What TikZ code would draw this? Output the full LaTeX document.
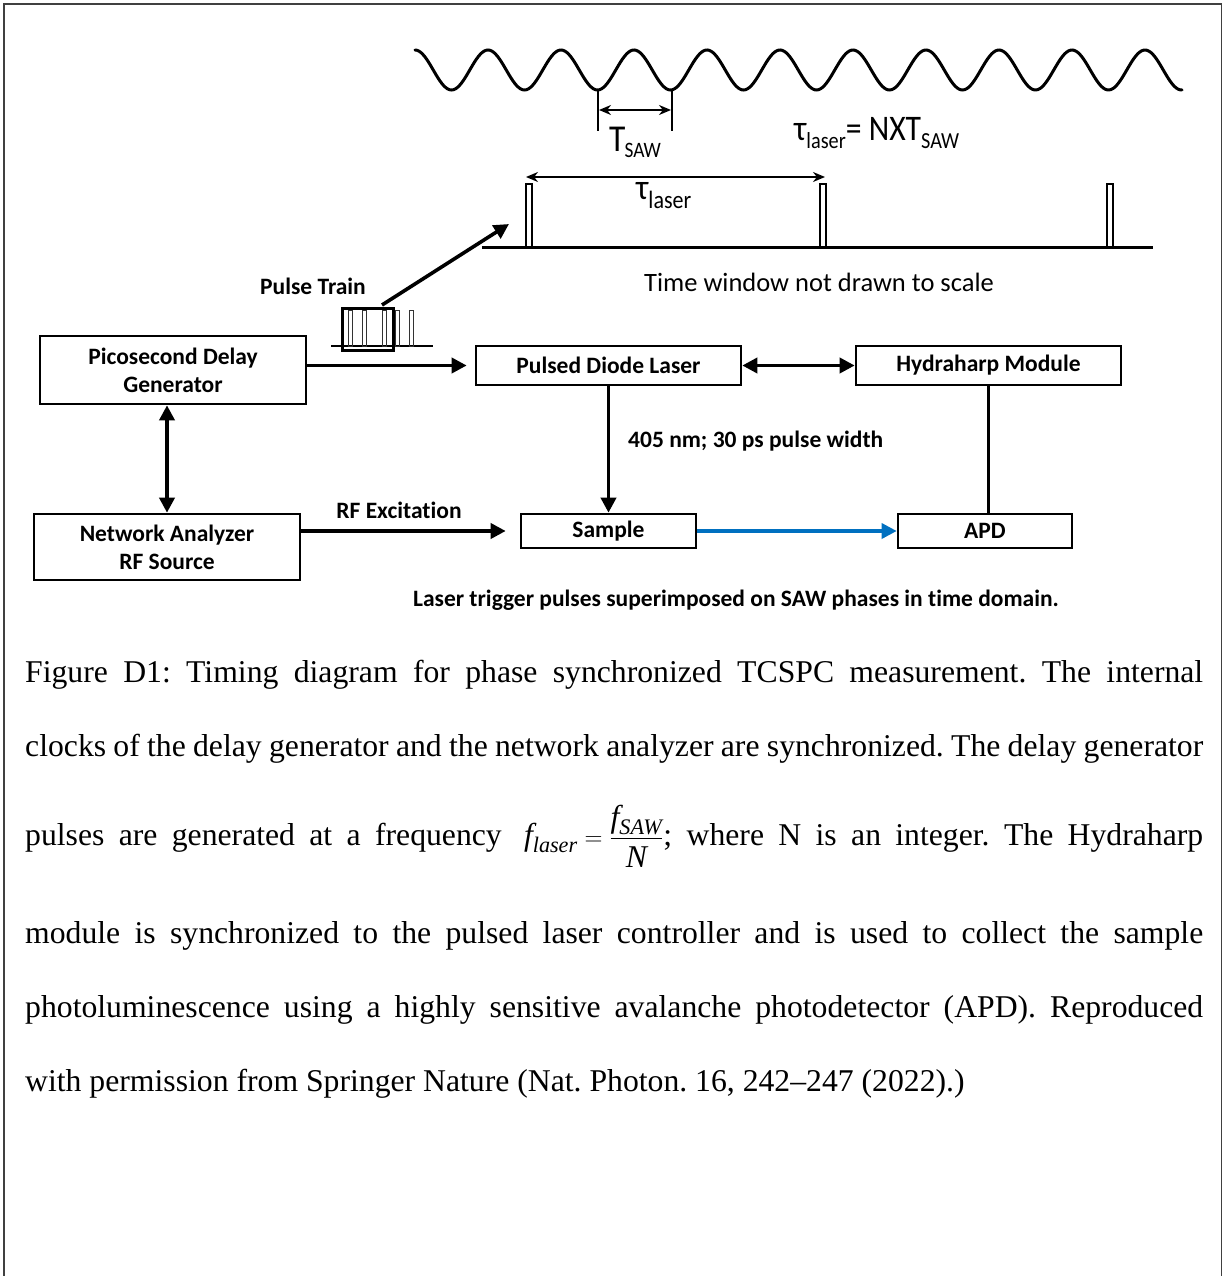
\documentclass[tikz,border=0pt]{standalone}
\usepackage{amsmath}
\usepackage{fontspec}
\setmainfont{Liberation Serif}
\newfontfamily\calfont[Ligatures=NoCommon]{Carlito}
\newfontfamily\narrowfont[FakeStretch=0.88]{Carlito}
\usetikzlibrary{arrows.meta}
\definecolor{sawblue}{RGB}{0,112,192}
\newcommand{\fs}[1]{\fontsize{#1}{#1}\selectfont}
\frenchspacing
\begin{document}
\begin{tikzpicture}[x=1pt,y=-1pt,
  box/.style={draw,line width=2.6pt,inner sep=0pt,align=center,font=\calfont\bfseries\fontsize{23.5}{28}\selectfont},
  lbl/.style={inner sep=0pt,font=\calfont\bfseries\fs{23.5}},
  arr/.style={line width=3.6pt,-{Triangle[length=15pt,width=15pt]}},
  darr/.style={line width=3.6pt,{Triangle[length=15pt,width=15pt]}-{Triangle[length=15pt,width=15pt]}},
  thinarr/.style={line width=1.8pt,{Stealth[length=12pt,width=10pt]}-{Stealth[length=12pt,width=10pt]}},
  pulse/.style={line width=1.1pt},
  capline/.style={inner sep=0pt,anchor=base west,font=\fs{31.7}}]
\useasboundingbox (0,0) rectangle (1225,1276);
% border
\draw[line width=1.6pt,black!75] (4,1290) -- (4,4) -- (1221.5,4) -- (1221.5,1290);

% SAW wave
\draw[line width=3pt,line cap=round] plot[domain=415:1182,samples=400,smooth] (\x,{70-20*cos(((\x-415)/73)*360)});
% T_SAW markers
\coordinate (ta) at (598,90);
\coordinate (tb) at (672,90);
\draw[line width=2.6pt] (ta) -- ++(0,41);
\draw[line width=2.6pt] (tb) -- ++(0,41);
\coordinate (tal) at (599,110);
\coordinate (tbl) at (671,110);
\draw[thinarr] (tal) -- (tbl);
\node[inner sep=0pt,anchor=base west] (tsaw) at (609,152) {\narrowfont\fs{38}T\kern-1pt\raisebox{-6pt}{\fs{22}SAW}};
\node[inner sep=0pt,anchor=base west] (eq) at (794,141) {\narrowfont\fs{36}τ\raisebox{-8pt}{\fs{23}laser}= NXT\raisebox{-8pt}{\fs{23}SAW}};

% timeline
\coordinate (tl0) at (482,247);
\coordinate (tl1) at (1153,247);
\draw[line width=3pt] (tl0) -- (tl1);
\draw[pulse] (526,184) rectangle (532,247);
\draw[pulse] (820,184) rectangle (826,247);
\draw[pulse] (1107,184) rectangle (1113,247);
\coordinate (la) at (526,177);
\coordinate (lb) at (825,177);
\draw[thinarr] (la) -- (lb);
\node[inner sep=0pt,anchor=base west] (tlas) at (636,200) {\narrowfont\fs{36}τ\raisebox{-9pt}{\fs{25}laser}};
\node[inner sep=0pt,font=\calfont\fs{26.5}] (tw) at (819,282) {Time window not drawn to scale};

% pulse train icon
\node[lbl] (ptl) at (313,286) {Pulse Train};
\draw[line width=1.2pt] (331,346) -- (433,346);
\foreach \a in {348,362,382,395,409}{\draw[line width=0.9pt,black!80] (\a,310) rectangle (\a+4,346);}
\node[draw,line width=3pt,minimum width=51pt,minimum height=42pt,inner sep=0pt] (ptbox) at (367.5,329) {};
\coordinate (pt0) at (382,305);
\coordinate (pt1) at (509,224);
\draw[arr] (pt0) -- (pt1);

% boxes
\node[box,minimum width=266pt,minimum height=68pt] (pdg) at (173,370) {Picosecond Delay\\Generator};
\node[box,minimum width=265pt,minimum height=39pt] (pdl) at (608.5,365.5) {Pulsed Diode Laser};
\node[box,minimum width=265pt,minimum height=39pt] (hyd) at (988.5,365.5) {Hydraharp Module};
\node[box,minimum width=266pt,minimum height=66pt] (na) at (167,547) {Network Analyzer\\RF Source};
\node[box,minimum width=175pt,minimum height=34pt] (sam) at (608.5,531) {Sample};
\node[box,minimum width=174pt,minimum height=34pt] (apd) at (985,531) {APD};

% connectors
\draw[arr,shorten >=8pt] (pdg.east |- pdl.west) -- (pdl.west);
\draw[darr] (pdl.east) -- (hyd.west);
\draw[arr] (pdl.south) -- (sam.north);
\draw[line width=3.6pt] (hyd.south) -- (hyd.south |- apd.north);
\draw[darr] (pdg.south -| na.north) -- (na.north);
\draw[arr,shorten >=14pt] (na.east |- sam.west) -- (sam.west);
\draw[line width=3.4pt,sawblue,-{Triangle[length=15pt,width=15pt]}] (sam.east) -- (apd.west);

\node[lbl,anchor=west] (wl) at (628,441) {405 nm; 30 ps pulse width};
\node[lbl] (rfx) at (399,510) {RF Excitation};
\node[lbl] (ltp) at (736,600) {Laser trigger pulses superimposed on SAW phases in time domain.};

% caption
\node[capline] (c1) at (25,682) {\makebox[1178pt][s]{Figure D1: Timing diagram for phase synchronized TCSPC measurement. The internal}};
\node[capline] (c2) at (25,756) {\makebox[1178pt][s]{clocks of the delay generator and the network analyzer are synchronized. The delay generator}};
\node[capline] (c3) at (25,845) {\makebox[1178pt][s]{pulses are generated at a frequency \mbox{ $\textit{f}_{\textit{laser}}=\dfrac{\textit{f}_{\textit{SAW}}\rule[-5pt]{0pt}{1pt}}{\rule{0pt}{25pt}\textit{N}}$}; where N is an integer. The Hydraharp}};
\node[capline] (c4) at (25,943) {\makebox[1178pt][s]{module is synchronized to the pulsed laser controller and is used to collect the sample}};
\node[capline] (c5) at (25,1017) {\makebox[1178pt][s]{photoluminescence using a highly sensitive avalanche photodetector (APD). Reproduced}};
\node[capline] (c6) at (25,1091) {with permission from Springer Nature (Nat. Photon. 16, 242–247 (2022).)};
\end{tikzpicture}
\end{document}
